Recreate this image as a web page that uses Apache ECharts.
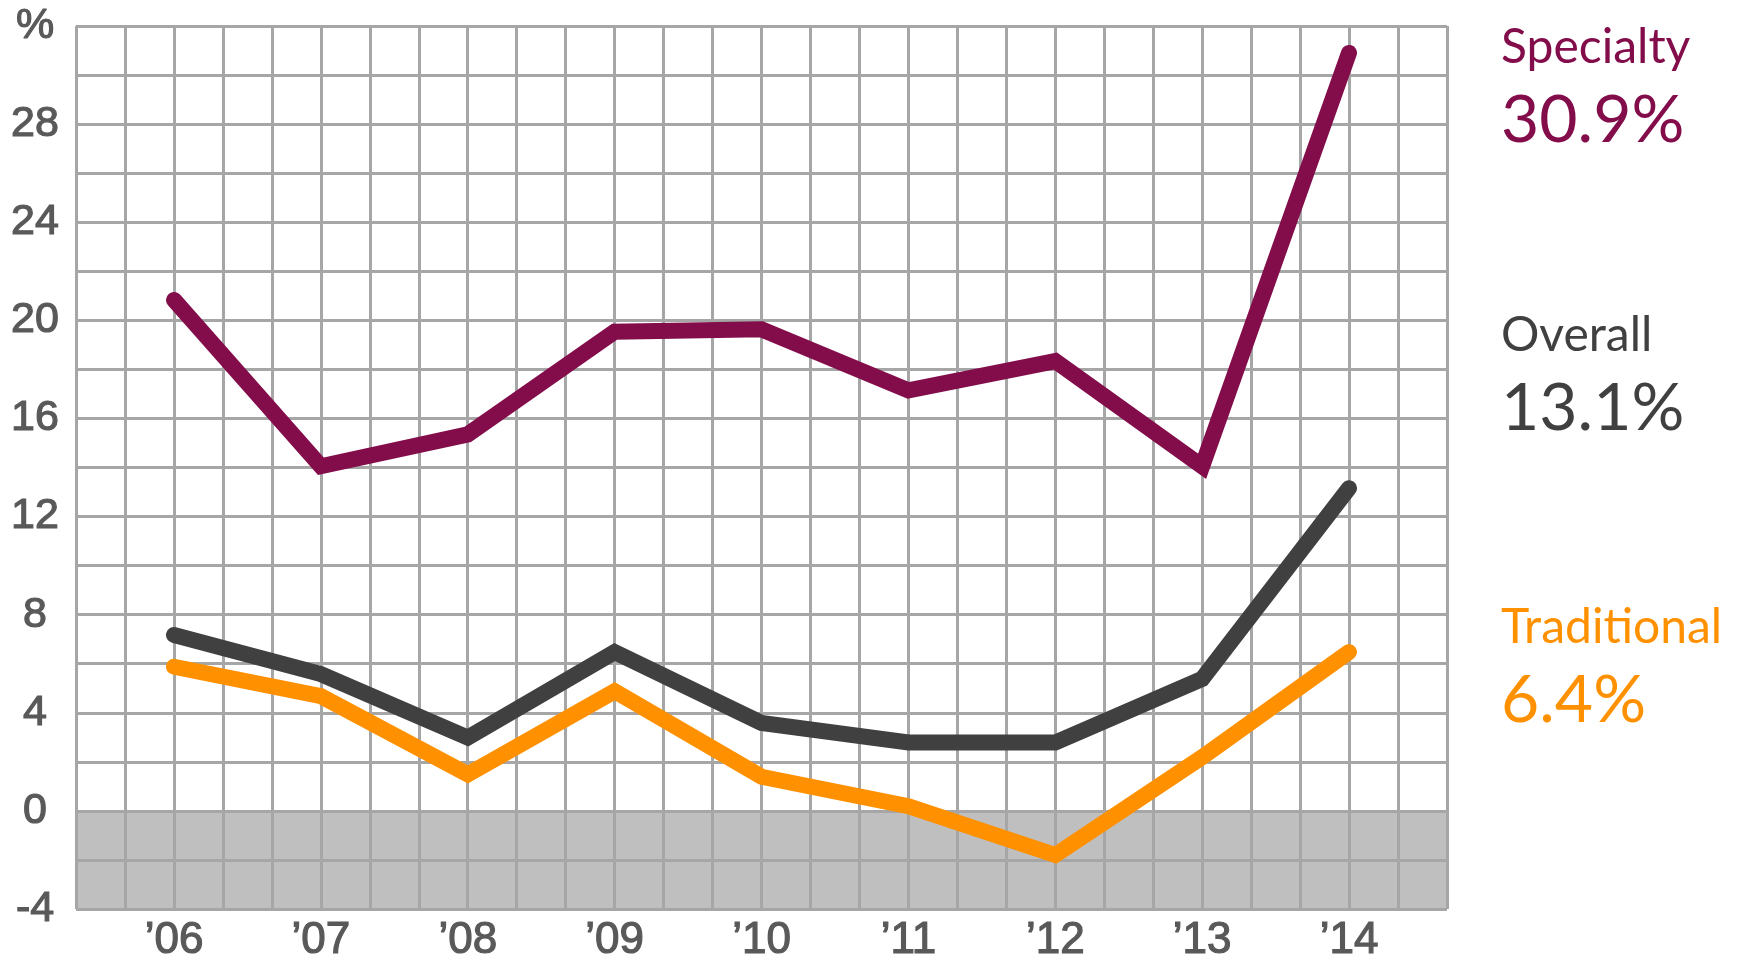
<!DOCTYPE html>
<html>
<head>
<meta charset="utf-8">
<script src="https://cdn.jsdelivr.net/npm/echarts@6/dist/echarts.min.js"></script>
<style>
html,body{margin:0;padding:0;background:#fff;}
#chart{width:1745px;height:963px;}
</style>
</head>
<body>
<div id="chart"></div>
<script>
var years = ['\u201906','\u201907','\u201908','\u201909','\u201910','\u201911','\u201912','\u201913','\u201914'];
var specialty = [20.8, 14.0, 15.3, 19.5, 19.6, 17.1, 18.3, 14.0, 30.9];
var overall = [7.1, 5.5, 2.9, 6.4, 3.5, 2.7, 2.7, 5.3, 13.1];
var traditional = [5.8, 4.6, 1.4, 4.8, 1.3, 0.1, -1.9, 2.1, 6.4];
var seriesNames = ['Specialty', 'Overall', 'Traditional'];
var latestLabels = ['30.9%', '13.1%', '6.4%'];
var yMin = -4, yMax = 32, yStep = 2, yLabelStep = 4;

var COLORS = ['#830c4a', '#404040', '#ff9100'];
var GRIDC = '#a6a6a6';
var LBLC = '#595959';

var chart = echarts.init(document.getElementById('chart'), null, {renderer: 'canvas'});

function lineSeries(name, data, color) {
  return {
    name: name, type: 'line', xAxisIndex: 1, yAxisIndex: 1,
    data: data, symbol: 'none', showSymbol: false, clip: false, z: 10,
    lineStyle: {color: color, width: 16, cap: 'round', join: 'miter', miterLimit: 4},
    emphasis: {disabled: true}
  };
}

var txtX = 1501;
function label(text, y, size, color) {
  return {
    type: 'text', x: txtX, y: y, z: 20,
    style: {text: text, fill: color, font: 'normal ' + size + 'px Lato', verticalAlign: 'middle', align: 'left'}
  };
}

chart.setOption({
  animation: false,
  backgroundColor: '#ffffff',
  grid: [
    {left: 76, right: 298, top: 26, bottom: 54},
    {left: 174, right: 396, top: 26, bottom: 54}
  ],
  xAxis: [
    {type: 'value', gridIndex: 0, min: 0, max: 28, interval: 1, z: 3,
     axisLine: {show: false}, axisTick: {show: false}, axisLabel: {show: false},
     splitLine: {show: true, lineStyle: {color: GRIDC, width: 3}}},
    {type: 'category', gridIndex: 1, data: years, boundaryGap: false,
     axisLine: {show: false}, axisTick: {show: false}, splitLine: {show: false},
     axisLabel: {color: LBLC, fontFamily: 'Liberation Sans', fontWeight: 'normal', fontSize: 44, margin: 12,
       textBorderColor: LBLC, textBorderWidth: 1.2}}
  ],
  yAxis: [
    {type: 'value', gridIndex: 0, min: yMin, max: yMax, interval: yStep, z: 3,
     axisLine: {show: false}, axisTick: {show: false},
     splitLine: {show: true, lineStyle: {color: GRIDC, width: 3}},
     axisLabel: {color: LBLC, fontFamily: 'Liberation Sans', fontWeight: 'normal', fontSize: 43, margin: 41, align: 'center',
       textBorderColor: LBLC, textBorderWidth: 1.2,
       formatter: function (v) { if (v === yMax) return '%'; return (v % yLabelStep === 0) ? String(v) : ''; }}},
    {type: 'value', gridIndex: 1, min: yMin, max: yMax, interval: yStep, show: false,
     axisLine: {show: false}, axisTick: {show: false}, axisLabel: {show: false}, splitLine: {show: false}}
  ],
  series: [
    {type: 'line', xAxisIndex: 0, yAxisIndex: 0, data: [], z: 1, silent: true,
     markArea: {silent: true, itemStyle: {color: '#bfbfbf'}, data: [[{yAxis: yMin}, {yAxis: 0}]]}},
    lineSeries(seriesNames[0], specialty, COLORS[0]),
    lineSeries(seriesNames[1], overall, COLORS[1]),
    lineSeries(seriesNames[2], traditional, COLORS[2])
  ],
  graphic: [
    label(seriesNames[0], 48, 48, COLORS[0]),
    label(latestLabels[0], 121, 66, COLORS[0]),
    label(seriesNames[1], 336, 48, COLORS[1]),
    label(latestLabels[1], 409, 66, COLORS[1]),
    label(seriesNames[2], 628, 48, COLORS[2]),
    label(latestLabels[2], 701, 66, COLORS[2])
  ]
});
</script>
</body>
</html>
